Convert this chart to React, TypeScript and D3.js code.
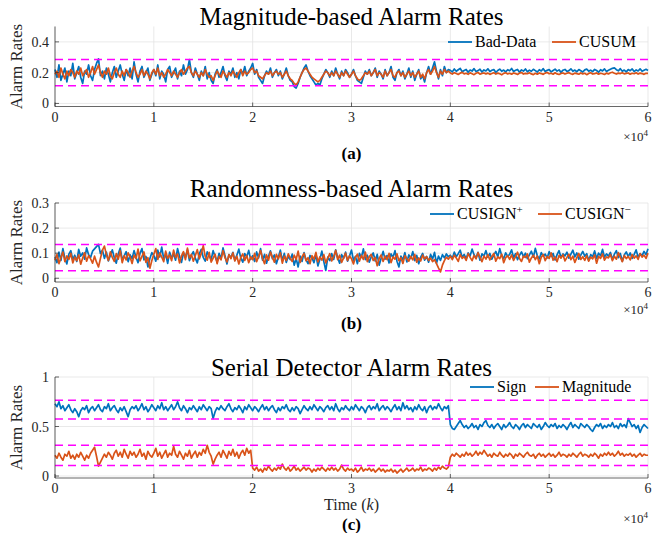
import React from 'react';
import * as d3 from 'd3';

// one stored point every 200 time steps, k = 0 .. 60000
const step = 200;

const badData = [
  0.22,0.17,0.25,0.15,0.19,0.23,0.14,0.21,0.18,0.26,
  0.16,0.20,0.24,0.17,0.13,0.21,0.19,0.25,0.18,0.15,
  0.22,0.26,0.29,0.18,0.21,0.16,0.23,0.19,0.14,0.20,
  0.24,0.17,0.21,0.25,0.19,0.15,0.22,0.18,0.23,0.16,
  0.27,0.19,0.14,0.21,0.24,0.17,0.20,0.23,0.15,0.19,
  0.22,0.18,0.25,0.16,0.21,0.19,0.14,0.22,0.24,0.17,
  0.20,0.23,0.16,0.21,0.18,0.25,0.19,0.22,0.285,0.20,
  0.17,0.23,0.19,0.15,0.21,0.18,0.24,0.16,0.20,0.15,
  0.13,0.19,0.22,0.17,0.20,0.24,0.18,0.15,0.21,0.19,
  0.23,0.17,0.20,0.16,0.22,0.19,0.24,0.18,0.21,0.23,
  0.26,0.19,0.22,0.17,0.15,0.13,0.18,0.21,0.19,0.23,
  0.17,0.20,0.22,0.18,0.21,0.16,0.19,0.23,0.18,0.15,
  0.14,0.11,0.10,0.13,0.17,0.20,0.23,0.25,0.21,0.18,
  0.16,0.14,0.12,0.13,0.12,0.16,0.19,0.22,0.20,0.17,
  0.21,0.18,0.23,0.19,0.16,0.21,0.18,0.22,0.20,0.17,
  0.19,0.22,0.18,0.15,0.14,0.13,0.17,0.21,0.19,0.22,
  0.18,0.20,0.23,0.17,0.21,0.19,0.16,0.22,0.18,0.20,
  0.24,0.17,0.15,0.20,0.22,0.18,0.21,0.16,0.19,0.23,
  0.17,0.21,0.15,0.19,0.22,0.16,0.18,0.14,0.20,0.24,
  0.19,0.23,0.27,0.21,0.16,0.22,0.18,0.24,0.20,0.22,
  0.215,0.205,0.224,0.209,0.219,0.228,0.206,0.214,0.221,0.203,
  0.217,0.210,0.226,0.208,0.213,0.222,0.204,0.218,0.211,0.225,
  0.207,0.216,0.220,0.202,0.214,0.223,0.209,0.217,0.205,0.219,
  0.212,0.227,0.208,0.215,0.221,0.203,0.218,0.210,0.224,0.206,
  0.216,0.209,0.222,0.213,0.204,0.219,0.211,0.226,0.207,0.215,
  0.220,0.205,0.214,0.223,0.210,0.218,0.202,0.216,0.221,0.208,
  0.213,0.225,0.209,0.217,0.206,0.220,0.212,0.204,0.218,0.223,
  0.210,0.216,0.207,0.221,0.214,0.203,0.219,0.211,0.224,0.208,
  0.215,0.222,0.228,0.231,0.219,0.212,0.226,0.209,0.217,0.205,
  0.220,0.213,0.224,0.207,0.218,0.211,0.225,0.209,0.216,0.222,
  0.214,
];

const cusum = [
  0.19,0.21,0.17,0.23,0.19,0.16,0.21,0.18,0.22,0.20,
  0.17,0.21,0.19,0.23,0.18,0.20,0.22,0.17,0.20,0.24,
  0.19,0.22,0.25,0.20,0.17,0.21,0.19,0.23,0.18,0.16,
  0.20,0.23,0.19,0.17,0.21,0.18,0.22,0.20,0.17,0.21,
  0.24,0.20,0.17,0.19,0.22,0.18,0.21,0.19,0.16,0.20,
  0.22,0.19,0.23,0.18,0.20,0.17,0.19,0.22,0.20,0.18,
  0.21,0.19,0.17,0.20,0.22,0.19,0.21,0.23,0.24,0.20,
  0.18,0.21,0.19,0.17,0.20,0.18,0.22,0.19,0.17,0.18,
  0.15,0.18,0.21,0.19,0.17,0.21,0.19,0.17,0.20,0.18,
  0.21,0.19,0.17,0.20,0.22,0.18,0.21,0.19,0.20,0.22,
  0.23,0.20,0.21,0.18,0.17,0.16,0.18,0.20,0.19,0.21,
  0.18,0.20,0.21,0.19,0.20,0.17,0.19,0.21,0.18,0.16,
  0.15,0.13,0.12,0.14,0.17,0.20,0.22,0.23,0.21,0.19,
  0.17,0.16,0.15,0.14,0.15,0.17,0.19,0.21,0.20,0.18,
  0.20,0.18,0.21,0.19,0.17,0.20,0.18,0.21,0.19,0.17,
  0.19,0.21,0.18,0.16,0.15,0.16,0.18,0.20,0.19,0.21,
  0.18,0.20,0.22,0.18,0.20,0.19,0.17,0.21,0.18,0.20,
  0.22,0.18,0.17,0.20,0.21,0.18,0.20,0.17,0.19,0.21,
  0.18,0.20,0.17,0.19,0.21,0.17,0.19,0.16,0.20,0.22,
  0.19,0.21,0.24,0.20,0.17,0.21,0.19,0.22,0.20,0.21,
  0.198,0.191,0.200,0.194,0.188,0.197,0.202,0.192,0.196,0.189,
  0.199,0.193,0.187,0.196,0.201,0.190,0.195,0.198,0.192,0.197,
  0.189,0.194,0.200,0.191,0.197,0.193,0.186,0.195,0.199,0.192,
  0.196,0.190,0.198,0.194,0.188,0.197,0.201,0.191,0.195,0.193,
  0.199,0.192,0.187,0.196,0.190,0.198,0.194,0.189,0.197,0.201,
  0.193,0.196,0.190,0.199,0.192,0.188,0.195,0.198,0.191,0.196,
  0.200,0.193,0.189,0.197,0.194,0.190,0.198,0.192,0.196,0.187,
  0.195,0.199,0.191,0.194,0.198,0.190,0.196,0.193,0.188,0.197,
  0.192,0.199,0.203,0.196,0.191,0.197,0.194,0.200,0.192,0.195,
  0.198,0.190,0.196,0.193,0.199,0.191,0.197,0.194,0.189,0.196,
  0.195,
];

const cusignPlus = [
  0.085,0.062,0.104,0.071,0.118,0.080,0.057,0.096,0.110,0.074,
  0.092,0.067,0.115,0.088,0.101,0.076,0.121,0.094,0.083,0.108,
  0.117,0.126,0.135,0.098,0.112,0.079,0.104,0.069,0.091,0.113,
  0.082,0.060,0.097,0.120,0.075,0.089,0.106,0.066,0.093,0.078,
  0.110,0.084,0.062,0.099,0.118,0.073,0.087,0.045,0.079,0.102,
  0.091,0.068,0.112,0.085,0.124,0.077,0.095,0.059,0.104,0.081,
  0.096,0.072,0.118,0.088,0.063,0.101,0.084,0.113,0.070,0.092,
  0.106,0.079,0.061,0.097,0.115,0.083,0.068,0.105,0.089,0.074,
  0.110,0.086,0.066,0.099,0.078,0.121,0.090,0.057,0.094,0.082,
  0.103,0.071,0.092,0.116,0.080,0.064,0.098,0.085,0.111,0.075,
  0.090,0.067,0.105,0.081,0.118,0.072,0.095,0.060,0.087,0.109,
  0.078,0.093,0.058,0.084,0.112,0.070,0.099,0.063,0.088,0.074,
  0.096,0.052,0.079,0.045,0.088,0.067,0.102,0.073,0.058,0.091,
  0.081,0.062,0.095,0.049,0.076,0.108,0.066,0.031,0.084,0.070,
  0.098,0.075,0.113,0.082,0.060,0.094,0.079,0.104,0.068,0.089,
  0.112,0.071,0.087,0.058,0.099,0.083,0.117,0.074,0.092,0.064,
  0.086,0.101,0.069,0.095,0.052,0.080,0.107,0.076,0.091,0.061,
  0.097,0.083,0.110,0.068,0.045,0.088,0.073,0.102,0.065,0.093,
  0.079,0.106,0.070,0.091,0.058,0.084,0.099,0.072,0.087,0.064,
  0.095,0.077,0.103,0.060,0.088,0.071,0.094,0.081,0.097,0.086,
  0.092,0.079,0.104,0.086,0.098,0.112,0.083,0.095,0.077,0.101,
  0.089,0.116,0.094,0.081,0.103,0.072,0.097,0.088,0.110,0.084,
  0.099,0.076,0.092,0.107,0.085,0.118,0.090,0.079,0.101,0.087,
  0.095,0.113,0.082,0.098,0.074,0.091,0.105,0.086,0.100,0.078,
  0.093,0.108,0.084,0.119,0.090,0.077,0.102,0.088,0.096,0.081,
  0.106,0.087,0.099,0.073,0.094,0.110,0.083,0.097,0.089,0.104,
  0.080,0.096,0.112,0.085,0.101,0.076,0.092,0.107,0.088,0.098,
  0.071,0.094,0.086,0.109,0.079,0.100,0.090,0.115,0.084,0.097,
  0.088,0.103,0.075,0.096,0.110,0.082,0.099,0.068,0.093,0.105,
  0.086,0.101,0.079,0.095,0.113,0.084,0.098,0.090,0.107,0.094,
  0.118,
];

const cusignMinus = [
  0.072,0.095,0.058,0.083,0.104,0.066,0.089,0.075,0.099,0.061,
  0.084,0.070,0.093,0.056,0.081,0.102,0.068,0.090,0.077,0.060,
  0.088,0.064,0.045,0.079,0.112,0.128,0.094,0.071,0.105,0.083,
  0.067,0.098,0.076,0.109,0.062,0.090,0.073,0.101,0.085,0.059,
  0.092,0.078,0.116,0.069,0.087,0.105,0.063,0.082,0.040,0.071,
  0.096,0.118,0.075,0.101,0.084,0.066,0.108,0.079,0.093,0.070,
  0.112,0.083,0.097,0.061,0.089,0.106,0.074,0.120,0.081,0.095,
  0.068,0.091,0.114,0.077,0.099,0.130,0.086,0.072,0.103,0.064,
  0.080,0.096,0.058,0.087,0.073,0.110,0.082,0.065,0.094,0.078,
  0.101,0.069,0.088,0.057,0.083,0.097,0.071,0.091,0.062,0.085,
  0.074,0.099,0.066,0.087,0.110,0.079,0.058,0.093,0.072,0.104,
  0.083,0.064,0.095,0.077,0.101,0.060,0.088,0.071,0.097,0.080,
  0.067,0.092,0.075,0.108,0.063,0.086,0.099,0.070,0.082,0.058,
  0.090,0.076,0.103,0.065,0.085,0.072,0.094,0.061,0.080,0.098,
  0.069,0.087,0.111,0.074,0.092,0.063,0.081,0.100,0.071,0.089,
  0.078,0.057,0.084,0.096,0.068,0.091,0.075,0.104,0.066,0.086,
  0.095,0.071,0.083,0.050,0.079,0.093,0.067,0.088,0.074,0.099,
  0.062,0.085,0.076,0.097,0.070,0.082,0.059,0.090,0.078,0.068,
  0.087,0.073,0.095,0.064,0.081,0.069,0.092,0.077,0.086,0.071,
  0.080,0.066,0.074,0.058,0.041,0.025,0.052,0.070,0.084,0.076,
  0.088,0.074,0.092,0.081,0.067,0.095,0.079,0.086,0.071,0.098,
  0.083,0.070,0.091,0.077,0.102,0.084,0.066,0.089,0.076,0.094,
  0.073,0.087,0.099,0.068,0.085,0.078,0.096,0.062,0.082,0.090,
  0.075,0.093,0.071,0.086,0.104,0.079,0.067,0.088,0.083,0.097,
  0.064,0.081,0.092,0.074,0.089,0.058,0.084,0.095,0.070,0.087,
  0.079,0.101,0.072,0.085,0.066,0.091,0.080,0.094,0.069,0.083,
  0.096,0.074,0.088,0.063,0.082,0.099,0.075,0.086,0.071,0.090,
  0.068,0.084,0.077,0.093,0.060,0.087,0.079,0.097,0.072,0.085,
  0.081,0.095,0.070,0.088,0.076,0.102,0.083,0.066,0.091,0.078,
  0.087,0.073,0.094,0.080,0.089,0.075,0.098,0.084,0.092,0.079,
  0.100,
];

const signRate = [
  0.73,0.70,0.75,0.68,0.71,0.66,0.69,0.72,0.67,0.64,
  0.68,0.65,0.60,0.66,0.69,0.67,0.71,0.64,0.68,0.70,
  0.66,0.69,0.72,0.67,0.65,0.70,0.68,0.73,0.66,0.69,
  0.71,0.67,0.64,0.69,0.66,0.70,0.65,0.60,0.67,0.70,
  0.68,0.71,0.66,0.69,0.73,0.67,0.70,0.65,0.68,0.72,
  0.69,0.66,0.71,0.68,0.74,0.67,0.70,0.66,0.69,0.72,
  0.67,0.70,0.75,0.69,0.66,0.71,0.68,0.64,0.69,0.67,
  0.71,0.68,0.65,0.70,0.67,0.72,0.69,0.66,0.70,0.68,
  0.58,0.65,0.69,0.67,0.71,0.68,0.66,0.70,0.73,0.68,
  0.65,0.69,0.67,0.71,0.68,0.64,0.70,0.67,0.72,0.69,
  0.66,0.70,0.68,0.65,0.69,0.72,0.67,0.70,0.66,0.69,
  0.71,0.67,0.64,0.69,0.66,0.70,0.68,0.72,0.67,0.65,
  0.69,0.66,0.70,0.68,0.63,0.67,0.71,0.68,0.66,0.70,
  0.67,0.72,0.69,0.66,0.70,0.68,0.65,0.69,0.71,0.67,
  0.70,0.66,0.73,0.68,0.65,0.69,0.67,0.71,0.68,0.66,
  0.70,0.67,0.72,0.69,0.66,0.70,0.68,0.64,0.69,0.71,
  0.67,0.70,0.68,0.73,0.66,0.69,0.71,0.67,0.70,0.68,
  0.65,0.69,0.72,0.67,0.70,0.66,0.74,0.68,0.71,0.67,
  0.69,0.65,0.70,0.67,0.72,0.68,0.66,0.70,0.64,0.69,
  0.71,0.67,0.70,0.68,0.73,0.69,0.66,0.70,0.68,0.71,
  0.52,0.48,0.47,0.50,0.53,0.56,0.52,0.49,0.51,0.48,
  0.50,0.53,0.49,0.51,0.47,0.52,0.50,0.54,0.56,0.51,
  0.49,0.52,0.48,0.51,0.53,0.50,0.47,0.52,0.49,0.51,
  0.54,0.50,0.48,0.52,0.50,0.47,0.51,0.53,0.49,0.52,
  0.50,0.48,0.53,0.51,0.49,0.52,0.47,0.50,0.54,0.51,
  0.49,0.52,0.50,0.53,0.48,0.51,0.49,0.52,0.50,0.47,
  0.51,0.54,0.49,0.52,0.50,0.48,0.53,0.51,0.49,0.52,
  0.50,0.47,0.45,0.49,0.52,0.50,0.53,0.48,0.51,0.49,
  0.52,0.50,0.54,0.49,0.51,0.48,0.53,0.50,0.52,0.49,
  0.58,0.54,0.50,0.52,0.48,0.51,0.44,0.49,0.52,0.50,
  0.48,
];

const magnitudeRate = [
  0.21,0.18,0.23,0.19,0.16,0.22,0.20,0.25,0.18,0.21,
  0.17,0.22,0.19,0.24,0.20,0.16,0.21,0.18,0.23,0.26,
  0.29,0.20,0.10,0.14,0.18,0.22,0.19,0.24,0.21,0.17,
  0.23,0.26,0.20,0.24,0.19,0.27,0.22,0.18,0.25,0.21,
  0.24,0.19,0.22,0.27,0.20,0.23,0.17,0.25,0.21,0.19,
  0.23,0.28,0.20,0.24,0.18,0.22,0.26,0.19,0.23,0.21,
  0.30,0.22,0.19,0.25,0.21,0.17,0.23,0.20,0.26,0.18,
  0.22,0.25,0.19,0.24,0.21,0.27,0.23,0.31,0.24,0.20,
  0.12,0.17,0.21,0.24,0.19,0.26,0.22,0.18,0.25,0.21,
  0.27,0.20,0.24,0.18,0.23,0.26,0.21,0.28,0.23,0.26,
  0.08,0.06,0.09,0.05,0.07,0.04,0.08,0.06,0.10,0.07,
  0.05,0.08,0.06,0.09,0.07,0.12,0.08,0.06,0.09,0.05,
  0.07,0.10,0.06,0.08,0.05,0.07,0.09,0.06,0.08,0.07,
  0.04,0.07,0.05,0.08,0.06,0.09,0.07,0.05,0.08,0.06,
  0.09,0.06,0.08,0.05,0.07,0.11,0.07,0.05,0.08,0.06,
  0.07,0.05,0.08,0.04,0.06,0.09,0.05,0.07,0.06,0.08,
  0.05,0.07,0.04,0.06,0.08,0.05,0.07,0.04,0.06,0.05,
  0.07,0.04,0.06,0.03,0.05,0.07,0.04,0.06,0.08,0.05,
  0.06,0.08,0.05,0.07,0.06,0.09,0.05,0.07,0.06,0.08,
  0.07,0.05,0.08,0.06,0.09,0.07,0.10,0.08,0.07,0.09,
  0.19,0.22,0.20,0.23,0.21,0.19,0.22,0.20,0.24,0.21,
  0.23,0.20,0.22,0.25,0.21,0.24,0.22,0.26,0.23,0.20,
  0.22,0.19,0.23,0.21,0.20,0.24,0.21,0.19,0.22,0.20,
  0.23,0.21,0.18,0.22,0.20,0.23,0.21,0.19,0.22,0.24,
  0.21,0.20,0.22,0.18,0.21,0.23,0.20,0.22,0.19,0.21,
  0.23,0.20,0.22,0.19,0.21,0.24,0.20,0.22,0.21,0.19,
  0.22,0.20,0.23,0.21,0.19,0.22,0.24,0.20,0.22,0.21,
  0.19,0.22,0.20,0.23,0.21,0.18,0.22,0.20,0.23,0.21,
  0.24,0.21,0.23,0.20,0.22,0.25,0.21,0.23,0.20,0.22,
  0.21,0.23,0.20,0.22,0.19,0.21,0.23,0.20,0.22,0.21,
  0.21,
];

const xTicks = [0, 10000, 20000, 30000, 40000, 50000, 60000];
const ticksA = [0, 0.2, 0.4];
const ticksB = [0, 0.1, 0.2, 0.3];
const ticksC = [0, 0.5, 1];
const thresholdsA = [0.115, 0.285];
const thresholdsB = [0.03, 0.135];
const thresholdsC = [0.105, 0.31, 0.575, 0.765];

const BLUE = '#0072BD';
const ORANGE = '#D95319';
const MAGENTA = '#FF00FF';
const FONT = '"Liberation Serif", "Times New Roman", serif';

const LEFT = 55;
const RIGHT = 648;

const x = d3.scaleLinear().domain([0, 60000]).range([LEFT, RIGHT]);

function Panel(props) {
  const { top, bottom, yDomain, yTicks, series, thresholds, title, titleY, legend, legendY, tag, tagY, expY, xLabel } = props;
  const y = d3.scaleLinear().domain(yDomain).range([bottom, top]);
  const line = d3.line<number>()
    .x((d, i) => x(i * step))
    .y((d) => y(d));

  return (
    <g>
      {/* grid */}
      {xTicks.map((t) => (
        <line key={'gx' + t} x1={x(t)} x2={x(t)} y1={top} y2={bottom} stroke="#e3e3e3" strokeWidth={0.8} />
      ))}
      {yTicks.map((t) => (
        <line key={'gy' + t} x1={LEFT} x2={RIGHT} y1={y(t)} y2={y(t)} stroke="#e3e3e3" strokeWidth={0.8} />
      ))}

      {series.map((s) => (
        <path key={s.name} d={line(s.values)} fill="none" stroke={s.color} strokeWidth={1.7} strokeLinejoin="round" />
      ))}

      {thresholds.map((t) => (
        <line key={'th' + t} x1={LEFT} x2={RIGHT} y1={y(t)} y2={y(t)} stroke={MAGENTA} strokeWidth={1.5} strokeDasharray="8,5" />
      ))}

      {/* axes */}
      <line x1={LEFT} x2={LEFT} y1={top} y2={bottom} stroke="#262626" strokeWidth={0.7} />
      <line x1={LEFT} x2={RIGHT} y1={bottom} y2={bottom} stroke="#262626" strokeWidth={0.7} />
      {xTicks.map((t) => (
        <g key={'xt' + t}>
          <line x1={x(t)} x2={x(t)} y1={bottom} y2={bottom - 4} stroke="#262626" strokeWidth={0.7} />
          <text x={x(t)} y={bottom + 15} textAnchor="middle" fontSize={14} fontFamily={FONT} fill="#262626">{t / 10000}</text>
        </g>
      ))}
      {yTicks.map((t) => (
        <g key={'yt' + t}>
          <line x1={LEFT} x2={LEFT + 4} y1={y(t)} y2={y(t)} stroke="#262626" strokeWidth={0.7} />
          <text x={LEFT - 6} y={y(t) + 5} textAnchor="end" fontSize={14} fontFamily={FONT} fill="#262626">{t}</text>
        </g>
      ))}

      <text x={RIGHT} y={expY + 8} textAnchor="end" fontSize={13} fontFamily={FONT} fill="#262626">
        ×10<tspan dy={-5} fontSize={9}>4</tspan>
      </text>

      <text transform={`translate(22,${(top + bottom) / 2}) rotate(-90)`} textAnchor="middle" fontSize={17} fontFamily={FONT} fill="#262626">Alarm Rates</text>

      <text x={(LEFT + RIGHT) / 2} y={titleY + 8} textAnchor="middle" fontSize={25} fontFamily={FONT} fill="#000">{title}</text>

      {legend.map((l) => (
        <g key={l.key}>
          <line x1={l.x} x2={l.x + 24} y1={legendY} y2={legendY} stroke={l.color} strokeWidth={1.8} />
          <text x={l.x + 27} y={legendY + 5} fontSize={16} fontFamily={FONT} fill="#000">{l.label}</text>
        </g>
      ))}

      {xLabel && (
        <text x={(LEFT + RIGHT) / 2} y={bottom + 32} textAnchor="middle" fontSize={16} fontFamily={FONT} fill="#262626">
          Time (<tspan fontStyle="italic">k</tspan>)
        </text>
      )}

      <text x={(LEFT + RIGHT) / 2} y={tagY + 6} textAnchor="middle" fontSize={17} fontWeight="bold" fontFamily={FONT} fill="#000">{tag}</text>
    </g>
  );
}

export default function App() {
  return (
    <svg width={654} height={533} style={{ position: 'absolute', left: 0, top: 0, background: '#fff' }}>
      <Panel
        top={26.5} bottom={106.5} yDomain={[-0.02, 0.5]} yTicks={ticksA}
        series={[{ name: 'bad', values: badData, color: BLUE }, { name: 'cusum', values: cusum, color: ORANGE }]}
        thresholds={thresholdsA}
        title="Magnitude-based Alarm Rates" titleY={17}
        legend={[
          { key: 'a1', x: 448, color: BLUE, label: 'Bad-Data' },
          { key: 'a2', x: 552, color: ORANGE, label: 'CUSUM' },
        ]}
        legendY={42} tag="(a)" tagY={153} expY={133}
      />
      <Panel
        top={203} bottom={282} yDomain={[-0.015, 0.3]} yTicks={ticksB}
        series={[{ name: 'plus', values: cusignPlus, color: BLUE }, { name: 'minus', values: cusignMinus, color: ORANGE }]}
        thresholds={thresholdsB}
        title="Randomness-based Alarm Rates" titleY={189}
        legend={[
          { key: 'b1', x: 430, color: BLUE, label: <>CUSIGN<tspan dy={-6} fontSize={11}>+</tspan></> },
          { key: 'b2', x: 538, color: ORANGE, label: <>CUSIGN<tspan dy={-6} fontSize={11}>−</tspan></> },
        ]}
        legendY={214} tag="(b)" tagY={323} expY={306}
      />
      <Panel
        top={377} bottom={478} yDomain={[-0.02, 1]} yTicks={ticksC}
        series={[{ name: 'sign', values: signRate, color: BLUE }, { name: 'mag', values: magnitudeRate, color: ORANGE }]}
        thresholds={thresholdsC}
        title="Serial Detector Alarm Rates" titleY={368}
        legend={[
          { key: 'c1', x: 470, color: BLUE, label: 'Sign' },
          { key: 'c2', x: 535, color: ORANGE, label: 'Magnitude' },
        ]}
        legendY={387} tag="(c)" tagY={524} expY={515} xLabel
      />
    </svg>
  );
}
